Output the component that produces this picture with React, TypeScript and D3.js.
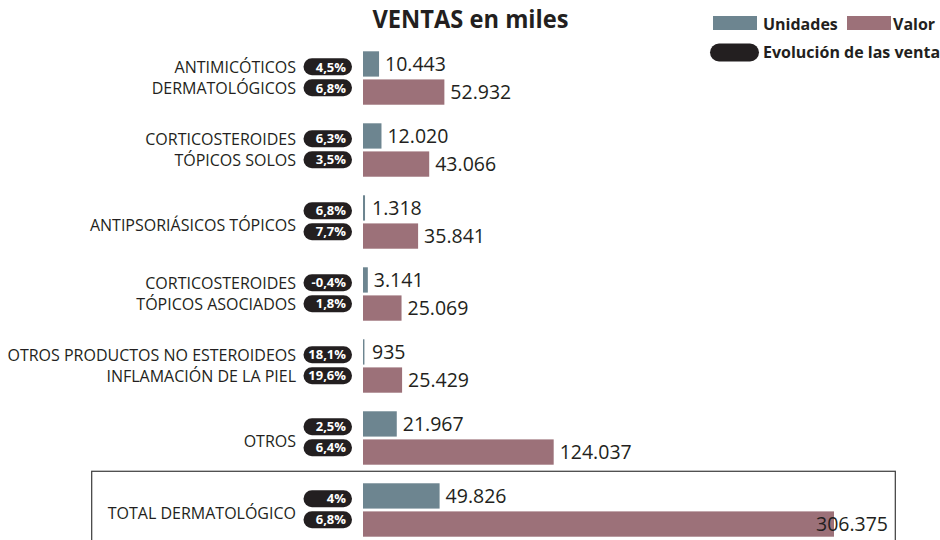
import React from "react";
import * as d3 from "d3";

const categories: string[][] = [
  ["ANTIMICÓTICOS", "DERMATOLÓGICOS"],
  ["CORTICOSTEROIDES", "TÓPICOS SOLOS"],
  ["ANTIPSORIÁSICOS TÓPICOS"],
  ["CORTICOSTEROIDES", "TÓPICOS ASOCIADOS"],
  ["OTROS PRODUCTOS NO ESTEROIDEOS", "INFLAMACIÓN DE LA PIEL"],
  ["OTROS"],
  ["TOTAL DERMATOLÓGICO"],
];
const unidades: number[] = [10443, 12020, 1318, 3141, 935, 21967, 49826];
const valor: number[] = [52932, 43066, 35841, 25069, 25429, 124037, 306375];
const evolUnidades: number[] = [4.5, 6.3, 6.8, -0.4, 18.1, 2.5, 4];
const evolValor: number[] = [6.8, 3.5, 7.7, 1.8, 19.6, 6.4, 6.8];
const seriesNames: string[] = ["Unidades", "Valor"];
const title = "VENTAS en miles";
const legendEvol = "Evolución de las ventas";

const colors: Record<string, string> = { Unidades: "#6d8590", Valor: "#9c7179" };
const ink = "#231f20";

const locale = d3.formatLocale({
  decimal: ",",
  thousands: ".",
  grouping: [3],
  currency: ["", ""],
  minus: "-",
});
const fmtNum = locale.format(",d");
const fmtPct = (v: number) => locale.format(".1~f")(v) + "%";

export default function App() {
  const W = 940;
  const H = 540;
  const x0 = 363;
  const keys = categories.map((_, i) => String(i));
  const y = d3
    .scaleBand<string>()
    .domain(keys)
    .range([51.3, 536.7])
    .paddingInner(0.258)
    .paddingOuter(0);
  const ySub = d3
    .scaleBand<string>()
    .domain(seriesNames)
    .range([0, y.bandwidth()])
    .paddingInner(0.1);
  const x = d3.scaleLinear().domain([0, 306375]).range([x0, x0 + 471]);

  const labelFont = "'Open Sans', 'Noto Sans', sans-serif";
  const pillX = 303.5;
  const pillW = 48.5;
  const pillH = 17;
  const pillOffsets = [7, 28];

  const last = categories.length - 1;
  const gTotal = y(String(last)) as number;

  return (
    <svg
      width={W}
      height={H}
      style={{ position: "absolute", left: 0, top: 0, background: "#fff", overflow: "hidden" }}
      fontFamily={labelFont}
    >
      <rect x={0} y={0} width={W} height={H} fill="#fff" />
      {/* title */}
      <text
        x={470.5}
        y={27.5}
        textAnchor="middle"
        fontSize={25.5}
        fontWeight={700}
        fill={ink}
        textLength={196}
        lengthAdjust="spacingAndGlyphs"
      >
        {title}
      </text>

      {/* legend */}
      <rect x={713} y={16} width={44} height={14} fill={colors.Unidades} />
      <text x={763} y={30} fontSize={16} fontWeight={700} fill={ink}>
        {seriesNames[0]}
      </text>
      <rect x={847} y={16} width={44} height={14} fill={colors.Valor} />
      <text x={893} y={30} fontSize={16} fontWeight={700} fill={ink}>
        {seriesNames[1]}
      </text>
      <rect x={710} y={43.5} width={49} height={18} rx={9} fill={ink} />
      <text x={763} y={57.5} fontSize={16} fontWeight={700} fill={ink}>
        {legendEvol}
      </text>

      {/* total box */}
      <rect
        x={91.7}
        y={gTotal - 12}
        width={895.3 - 91.7}
        height={100}
        fill="none"
        stroke="#3a3a3a"
        strokeWidth={1.2}
      />

      {categories.map((lines, i) => {
        const g = y(String(i)) as number;
        const vals = [unidades[i], valor[i]];
        const pcts = [evolUnidades[i], evolValor[i]];
        return (
          <g key={i}>
            {lines.length === 2 ? (
              lines.map((ln, j) => (
                <text
                  key={j}
                  x={296}
                  y={g + (j === 0 ? 21.5 : 43)}
                  textAnchor="end"
                  fontSize={16}
                  fill={ink}
                >
                  {ln}
                </text>
              ))
            ) : (
              <text x={296} y={g + 36} textAnchor="end" fontSize={16} fill={ink}>
                {lines[0]}
              </text>
            )}
            {pcts.map((p, j) => (
              <g key={"p" + j}>
                <rect
                  x={pillX}
                  y={g + pillOffsets[j]}
                  width={pillW}
                  height={pillH}
                  rx={8.5}
                  fill={ink}
                />
                <text
                  x={pillX + pillW - 6}
                  y={g + pillOffsets[j] + pillH / 2 + 4.7}
                  textAnchor="end"
                  fontSize={13}
                  fontWeight={700}
                  fill="#fff"
                >
                  {fmtPct(p)}
                </text>
              </g>
            ))}
            {seriesNames.map((s, j) => {
              const by = g + (ySub(s) as number);
              const bh = ySub.bandwidth();
              const xe = x(vals[j]);
              const inside = i === last && j === 1;
              const lx = inside ? xe - 18 : Math.max(xe + 6, 372);
              return (
                <g key={s}>
                  <rect x={x0} y={by} width={xe - x0} height={bh} fill={colors[s]} />
                  <text x={lx} y={by + bh / 2 + 7} fontSize={19.5} fill={ink}>
                    {fmtNum(vals[j])}
                  </text>
                </g>
              );
            })}
          </g>
        );
      })}
    </svg>
  );
}
